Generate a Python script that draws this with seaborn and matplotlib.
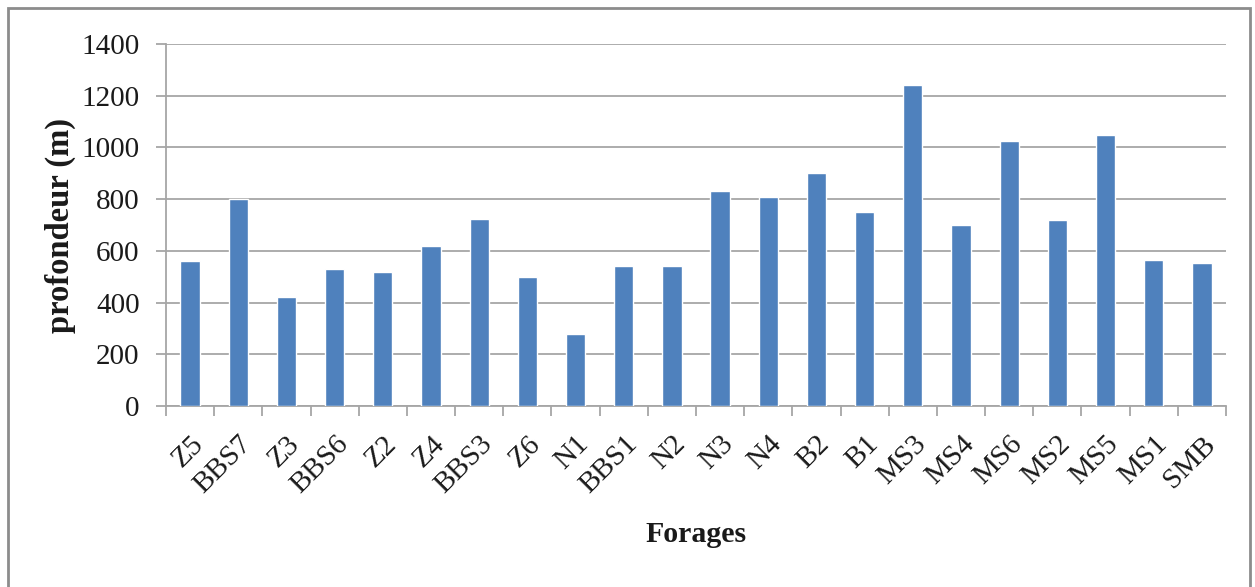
import matplotlib
matplotlib.use("Agg")
import matplotlib.pyplot as plt
import seaborn as sns
import pandas as pd
import numpy as np
from matplotlib.patches import Rectangle

forages = ["Z5", "BBS7", "Z3", "BBS6", "Z2", "Z4", "BBS3", "Z6", "N1", "BBS1", "N2",
           "N3", "N4", "B2", "B1", "MS3", "MS4", "MS6", "MS2", "MS5", "MS1", "SMB"]
profondeur = [560, 800, 420, 530, 520, 620, 725, 500, 280, 540, 540,
              830, 810, 900, 750, 1240, 700, 1025, 720, 1050, 565, 555]
yticks = [0, 200, 400, 600, 800, 1000, 1200, 1400]

sns.set_theme(style="white")
plt.rcParams["font.family"] = ["Liberation Serif", "DejaVu Serif"]

df = pd.DataFrame({"Forages": forages, "profondeur": profondeur})

fig = plt.figure(figsize=(12.55, 5.87), dpi=100)
ax = fig.add_axes([0.1323, 0.3083, 0.8446, 0.6167])

sns.barplot(data=df, x="Forages", y="profondeur", color="#4F81BD", width=0.4,
            saturation=1, ax=ax, zorder=3)

ax.set_ylim(0, 1400)
ax.set_yticks(yticks)
ax.set_xlim(-0.5, len(forages) - 0.5)
ax.yaxis.grid(True, color="#A6A6A6", linewidth=1.3, zorder=0)
ax.set_axisbelow(True)

for s in ["top", "right"]:
    ax.spines[s].set_visible(False)
for s in ["left", "bottom"]:
    ax.spines[s].set_color("#A6A6A6")
    ax.spines[s].set_linewidth(1.3)

ax.tick_params(axis="y", which="major", left=True, length=7, color="#A6A6A6",
               width=1.3, labelsize=21, pad=12, labelcolor="#1a1a1a")
ax.set_xticks(np.arange(len(forages)))
ax.set_xticklabels(forages, rotation=45, ha="right", rotation_mode="anchor",
                   fontsize=21, color="#1a1a1a")
ax.tick_params(axis="x", which="major", bottom=False, pad=12)
ax.set_xticks(np.arange(-0.5, len(forages)), minor=True)
ax.tick_params(axis="x", which="minor", bottom=True, length=7, color="#A6A6A6", width=1.3)

ax.set_xlabel("Forages", fontsize=21.5, fontweight="bold", color="#1a1a1a", labelpad=16)
ax.set_ylabel("profondeur (m)", fontsize=23.5, fontweight="bold", color="#1a1a1a", labelpad=4)

fig.patches.append(Rectangle((8 / 1255, -0.05), 1242 / 1255, 1 - 8 / 587 + 0.05,
                             transform=fig.transFigure, fill=False,
                             edgecolor="#8C8C8C", linewidth=2, zorder=0))

fig.savefig("out.png", dpi=100)
